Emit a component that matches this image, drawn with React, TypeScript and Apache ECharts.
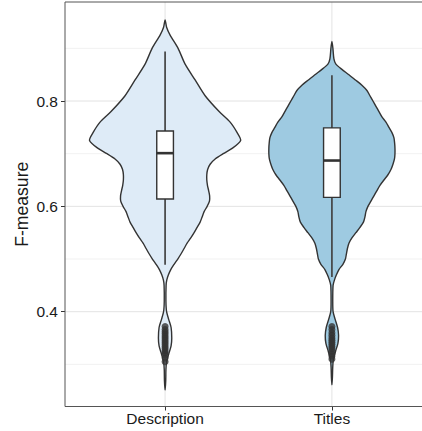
import React, { useEffect, useRef } from "react";
import * as echarts from "echarts";

const categories = ["Description", "Titles"];
const fillColors = ["#deebf7", "#9ecae1"];
const yMajorTicks = [0.4, 0.6, 0.8];
const yMinorGrid = [0.3, 0.5, 0.7, 0.9];
const xCategoryPos = [1, 2];

// Violin outlines: y value and half-width (category units)
const descY = [0.954, 0.94, 0.925, 0.9, 0.87, 0.84, 0.81, 0.78, 0.76, 0.74, 0.725, 0.71, 0.7, 0.69, 0.68, 0.67, 0.66, 0.65, 0.64, 0.63, 0.62, 0.61, 0.6, 0.59, 0.58, 0.57, 0.56, 0.55, 0.54, 0.53, 0.52, 0.51, 0.5, 0.49, 0.48, 0.47, 0.46, 0.45, 0.42, 0.4, 0.385, 0.37, 0.35, 0.335, 0.32, 0.305, 0.29, 0.27, 0.251];
const descHalfWidth = [0, 0.009, 0.03, 0.078, 0.12, 0.18, 0.24, 0.324, 0.39, 0.432, 0.453, 0.402, 0.348, 0.3, 0.27, 0.255, 0.25, 0.25, 0.254, 0.261, 0.267, 0.266, 0.252, 0.234, 0.222, 0.21, 0.192, 0.174, 0.154, 0.132, 0.114, 0.096, 0.076, 0.054, 0.034, 0.02, 0.01, 0.006, 0.005, 0.009, 0.022, 0.036, 0.04, 0.036, 0.022, 0.009, 0.005, 0.004, 0];

const titlesY = [0.913, 0.9, 0.88, 0.87, 0.86, 0.85, 0.84, 0.83, 0.82, 0.81, 0.8, 0.79, 0.78, 0.77, 0.76, 0.75, 0.74, 0.73, 0.72, 0.71, 0.7, 0.69, 0.68, 0.67, 0.66, 0.65, 0.64, 0.63, 0.62, 0.61, 0.6, 0.59, 0.58, 0.57, 0.56, 0.55, 0.54, 0.53, 0.52, 0.51, 0.5, 0.49, 0.48, 0.47, 0.46, 0.45, 0.42, 0.4, 0.385, 0.37, 0.355, 0.34, 0.325, 0.31, 0.295, 0.275, 0.261];
const titlesHalfWidth = [0, 0.006, 0.012, 0.024, 0.06, 0.102, 0.141, 0.18, 0.21, 0.228, 0.246, 0.264, 0.282, 0.3, 0.324, 0.342, 0.36, 0.372, 0.376, 0.378, 0.378, 0.375, 0.366, 0.354, 0.336, 0.312, 0.288, 0.27, 0.252, 0.234, 0.216, 0.204, 0.198, 0.189, 0.168, 0.144, 0.12, 0.102, 0.093, 0.087, 0.081, 0.066, 0.042, 0.027, 0.015, 0.007, 0.005, 0.007, 0.02, 0.034, 0.04, 0.036, 0.022, 0.009, 0.005, 0.003, 0];

// Box plot stats: [lowerWhisker, Q1, median, Q3, upperWhisker]
const descBox = [0.489, 0.614, 0.701, 0.743, 0.894];
const titlesBox = [0.466, 0.617, 0.687, 0.749, 0.849];

const descOutliers = [0.305, 0.312, 0.318, 0.322, 0.326, 0.33, 0.334, 0.338, 0.342, 0.346, 0.35, 0.354, 0.358, 0.362, 0.366, 0.372];
const titlesOutliers = [0.31, 0.316, 0.32, 0.325, 0.33, 0.334, 0.338, 0.342, 0.346, 0.35, 0.355, 0.36, 0.366, 0.372];

const violins = [
  { y: descY, w: descHalfWidth },
  { y: titlesY, w: titlesHalfWidth },
];
const boxes = [descBox, titlesBox];
const outliers = [descOutliers, titlesOutliers];

const FONT = "Liberation Sans, Arial, Helvetica, sans-serif";
const BOX_HALF = 0.05;
const X_MIN = 0.4;
const X_MAX = 2.6;
const Y_MIN = 0.22;
const Y_MAX = 0.988;

type GridSpec = { kind: "h" | "v"; v: number; style: "major" | "minor" | "border" };
const gridSpecs: GridSpec[] = [
  ...yMinorGrid.map((v) => ({ kind: "h" as const, v, style: "minor" as const })),
  ...yMajorTicks.map((v) => ({ kind: "h" as const, v, style: "major" as const })),
  ...xCategoryPos.map((v) => ({ kind: "v" as const, v, style: "major" as const })),
  { kind: "h", v: Y_MAX, style: "border" },
  { kind: "h", v: Y_MIN, style: "border" },
  { kind: "v", v: X_MIN, style: "border" },
  { kind: "v", v: X_MAX, style: "border" },
];

const lineStyles: Record<string, any> = {
  minor: { stroke: "#eeeeee", lineWidth: 0.8 },
  major: { stroke: "#e3e3e3", lineWidth: 1 },
  border: { stroke: "#555555", lineWidth: 1 },
};

export default function App() {
  const ref = useRef<HTMLDivElement>(null);
  useEffect(() => {
    if (!ref.current) return;
    const chart = echarts.init(ref.current, undefined, { renderer: "svg" });
    const option: any = {
      animation: false,
      backgroundColor: "#ffffff",
      grid: {
        left: 65,
        top: 2,
        width: 367,
        height: 404.5,
        show: false,
        containLabel: false,
        outerBoundsMode: "none",
      },
      xAxis: {
        type: "value",
        min: X_MIN,
        max: X_MAX,
        axisLine: { show: false },
        splitLine: { show: false },
        axisTick: {
          show: true,
          customValues: xCategoryPos,
          length: 4,
          lineStyle: { color: "#333333", width: 1 },
        },
        axisLabel: {
          customValues: xCategoryPos,
          formatter: (v: number) => categories[Math.round(v) - 1] ?? "",
          color: "#1a1a1a",
          fontSize: 15.5,
          fontFamily: FONT,
          margin: 4,
        },
      },
      yAxis: {
        type: "value",
        min: Y_MIN,
        max: Y_MAX,
        axisLine: { show: false },
        splitLine: { show: false },
        axisTick: {
          show: true,
          customValues: yMajorTicks,
          length: 4,
          lineStyle: { color: "#333333", width: 1 },
        },
        axisLabel: {
          customValues: yMajorTicks,
          formatter: (v: number) => v.toFixed(1),
          color: "#1a1a1a",
          fontSize: 15.5,
          fontFamily: FONT,
          margin: 7,
        },
        name: "F-measure",
        nameLocation: "middle",
        nameRotate: 90,
        nameGap: 34,
        nameMoveOverlap: false,
        nameTextStyle: { color: "#1a1a1a", fontSize: 17.6, fontFamily: FONT },
      },
      series: [
        {
          type: "custom",
          name: "grid",
          silent: true,
          z: 0,
          clip: false,
          data: gridSpecs.map((g, i) => [i, g.v]),
          encode: { x: 0, y: 1 },
          renderItem: (params: any, api: any) => {
            const g = gridSpecs[params.dataIndex];
            let p1, p2;
            if (g.kind === "h") {
              p1 = api.coord([X_MIN, g.v]);
              p2 = api.coord([X_MAX, g.v]);
            } else {
              p1 = api.coord([g.v, Y_MIN]);
              p2 = api.coord([g.v, Y_MAX]);
            }
            return {
              type: "line",
              z2: g.style === "border" ? 10 : 0,
              shape: { x1: p1[0], y1: p1[1], x2: p2[0], y2: p2[1] },
              style: lineStyles[g.style],
            };
          },
        },
        {
          type: "custom",
          name: "violin",
          z: 2,
          data: categories.map((c, i) => [i + 1, boxes[i][2]]),
          encode: { x: 0, y: 1 },
          renderItem: (params: any, api: any) => {
            const i = params.dataIndex;
            const v = violins[i];
            const cx = i + 1;
            const right = v.y.map((y, k) => api.coord([cx + v.w[k], y]));
            const left = v.y
              .slice(1, -1)
              .map((y, k) => api.coord([cx - v.w[k + 1], y]))
              .reverse();
            return {
              type: "polygon",
              shape: { points: right.concat(left), smooth: 0.25 },
              style: { fill: fillColors[i], stroke: "#333333", lineWidth: 1.4 },
            };
          },
        },
        {
          type: "custom",
          name: "box",
          z: 3,
          data: categories.map((c, i) => [i + 1, boxes[i][2]]),
          encode: { x: 0, y: 1 },
          renderItem: (params: any, api: any) => {
            const i = params.dataIndex;
            const b = boxes[i];
            const cx = i + 1;
            const wLo = api.coord([cx, b[0]]);
            const q1 = api.coord([cx, b[1]]);
            const q3 = api.coord([cx, b[3]]);
            const wHi = api.coord([cx, b[4]]);
            const tl = api.coord([cx - BOX_HALF, b[3]]);
            const br = api.coord([cx + BOX_HALF, b[1]]);
            const mL = api.coord([cx - BOX_HALF, b[2]]);
            const mR = api.coord([cx + BOX_HALF, b[2]]);
            const lineStyle = { stroke: "#444444", lineWidth: 1.7 };
            return {
              type: "group",
              children: [
                { type: "line", shape: { x1: wHi[0], y1: wHi[1], x2: q3[0], y2: q3[1] }, style: lineStyle },
                { type: "line", shape: { x1: q1[0], y1: q1[1], x2: wLo[0], y2: wLo[1] }, style: lineStyle },
                {
                  type: "rect",
                  shape: { x: tl[0], y: tl[1], width: br[0] - tl[0], height: br[1] - tl[1] },
                  style: { fill: "#ffffff", stroke: "#333333", lineWidth: 1.4 },
                },
                { type: "line", shape: { x1: mL[0], y1: mL[1], x2: mR[0], y2: mR[1] }, style: { stroke: "#333333", lineWidth: 2.6 } },
              ],
            };
          },
        },
        ...outliers.map((arr, i) => ({
          type: "scatter",
          name: categories[i] + " outliers",
          z: 4,
          symbol: "circle",
          symbolSize: 7,
          itemStyle: { color: "#333333" },
          data: arr.map((v) => [i + 1, v]),
        })),
      ],
    };
    chart.setOption(option);
    return () => chart.dispose();
  }, []);
  return (
    <div
      ref={ref}
      style={{ position: "fixed", left: 0, top: 0, width: 422, height: 431 }}
    />
  );
}
